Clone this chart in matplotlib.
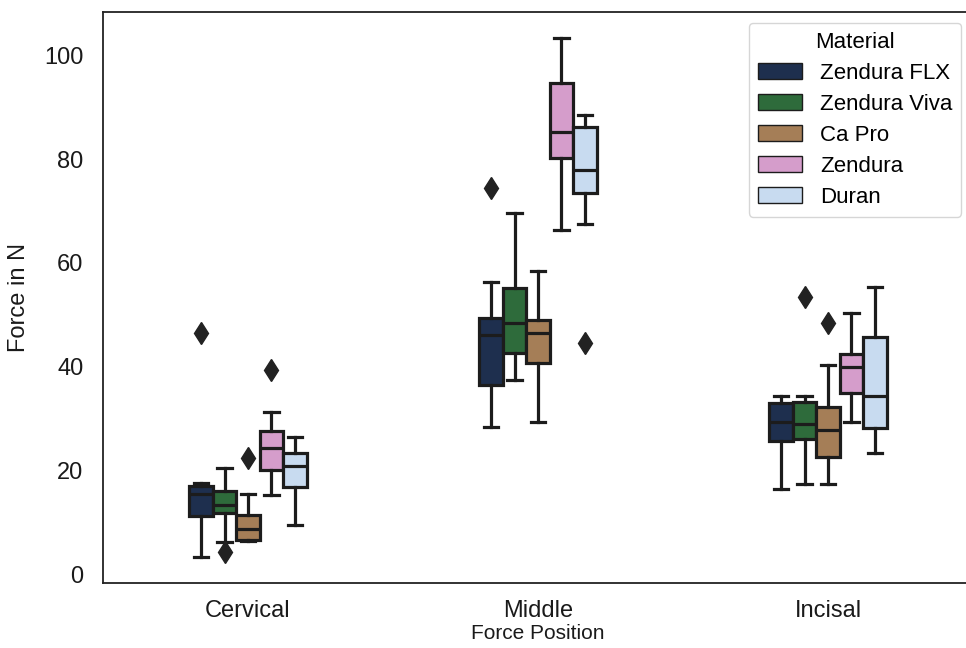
import matplotlib
matplotlib.use("Agg")
import matplotlib.pyplot as plt
from matplotlib.patches import Patch
import numpy as np

plt.rcParams['font.family'] = ['Liberation Sans', 'DejaVu Sans']

positions = ["Cervical", "Middle", "Incisal"]
materials = ["Zendura FLX", "Zendura Viva", "Ca Pro", "Zendura", "Duran"]
colors = ["#1e2f4e", "#2e6b3b", "#a57e57", "#d59dcb", "#c8dbf0"]

# rows: materials, cols: positions (Cervical, Middle, Incisal)
whislo = [[3.5, 28.5, 16.5],
          [6.3, 37.5, 17.5],
          [6.5, 29.4, 17.5],
          [15.4, 66.3, 29.4],
          [9.6, 67.5, 23.5]]
q1 = [[11.2, 36.5, 25.8],
      [11.9, 42.7, 26.2],
      [6.7, 40.8, 22.7],
      [20.2, 80.2, 35.0],
      [16.9, 73.4, 28.2]]
med = [[15.5, 46.2, 29.4],
       [13.5, 48.5, 29.0],
       [8.8, 46.5, 27.9],
       [24.4, 85.2, 40.0],
       [21.0, 77.9, 34.4]]
q3 = [[17.1, 49.4, 33.1],
      [16.2, 55.2, 33.3],
      [11.5, 49.0, 32.3],
      [27.7, 94.6, 42.5],
      [23.5, 86.1, 45.8]]
whishi = [[17.6, 56.3, 34.4],
          [20.6, 69.6, 34.4],
          [15.6, 58.5, 40.4],
          [31.3, 103.3, 50.4],
          [26.5, 88.5, 55.4]]
fliers = [[[46.5], [74.4], []],
          [[4.4], [], [53.5]],
          [[22.5], [], [48.4]],
          [[39.4], [], []],
          [[], [44.6], []]]

W, H = 966, 648
fig = plt.figure(figsize=(W / 100, H / 100), dpi=100)
ax = fig.add_axes([103 / W, 1 - 583 / H, 870 / W, 571 / H])

edge = "#1c1c1c"
lw = 2.3
n = len(materials)
step = 0.081
for i, mat in enumerate(materials):
    stats = []
    for j in range(len(positions)):
        stats.append(dict(whislo=whislo[i][j], q1=q1[i][j], med=med[i][j],
                          q3=q3[i][j], whishi=whishi[i][j], fliers=fliers[i][j]))
    pos = np.arange(len(positions)) + (i - (n - 1) / 2) * step
    ax.bxp(stats, positions=pos, widths=step, patch_artist=True,
           showfliers=True, manage_ticks=False,
           boxprops=dict(facecolor=colors[i], edgecolor=edge, linewidth=lw),
           medianprops=dict(color=edge, linewidth=lw),
           whiskerprops=dict(color=edge, linewidth=lw),
           capprops=dict(color=edge, linewidth=lw),
           capwidths=step * 0.6,
           flierprops=dict(marker='d', markersize=11.5, markerfacecolor="#222222",
                           markeredgecolor="#222222", linestyle='none'))

ax.set_xlim(-0.5, 2.5)
ax.set_ylim(-1.6, 108.3)
ax.set_xticks(range(len(positions)))
ax.set_xticklabels(positions)
ax.set_yticks([0, 20, 40, 60, 80, 100])
ax.tick_params(axis='both', length=0, labelsize=17, colors="#1a1a1a")
ax.tick_params(axis='x', pad=12)
ax.tick_params(axis='y', pad=14)
ax.set_xlabel("Force Position", fontsize=15, color="#1a1a1a", labelpad=2)
ax.set_ylabel("Force in N", fontsize=17, color="#1a1a1a", labelpad=10)
for s in ax.spines.values():
    s.set_color("#222222")
    s.set_linewidth(1.3)

handles = [Patch(facecolor=c, edgecolor=edge, linewidth=1.0, label=m)
           for c, m in zip(colors, materials)]
leg = ax.legend(handles=handles, title="Material", loc="upper left",
                bbox_to_anchor=(749 / W, 1 - 23 / H), bbox_transform=fig.transFigure,
                fontsize=16, title_fontsize=16, frameon=True, fancybox=True,
                borderaxespad=0, labelspacing=0.45, handlelength=2.0)
leg.get_frame().set_edgecolor("#cccccc")
leg.get_frame().set_linewidth(1.0)

fig.savefig("out.png", dpi=100)
